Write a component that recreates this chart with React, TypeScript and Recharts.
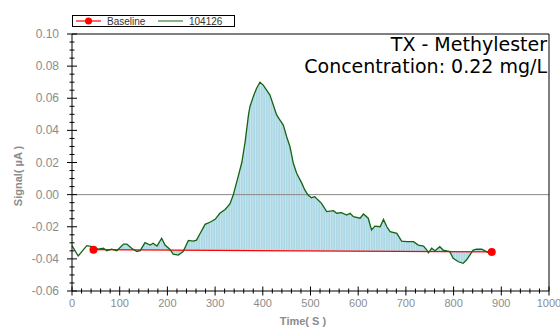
import React from "react";
import { ComposedChart, Area, Line, XAxis, YAxis, ReferenceLine } from "recharts";

// signal trace (time in s, signal in µA)
const timeS = [
  0, 13, 31, 41, 55, 66, 73, 83, 94, 108, 115, 125, 136, 143, 153, 164, 170, 178, 188, 195,
  205, 212, 223, 233, 244, 254, 261, 268, 279, 289, 300, 310, 321, 331, 338, 345, 356, 363, 370, 373,
  380, 387, 394, 401, 408, 415, 422, 429, 436, 443, 450, 457, 464, 471, 482, 488, 495, 502, 509, 516,
  523, 534, 548, 555, 565, 576, 583, 590, 604, 611, 621, 628, 635, 646, 653, 660, 667, 681, 691, 702,
  716, 726, 737, 744, 747, 754, 761, 771, 778, 786, 792, 799, 810, 820, 827, 834, 841, 848, 859, 869,
  876, 880,
];
const signal = [
  -0.0318, -0.0382, -0.0318, -0.0324, -0.0339, -0.0334, -0.0349, -0.0339, -0.0349, -0.0308,
  -0.0308, -0.0334, -0.0355, -0.0349, -0.0299, -0.0314, -0.0303, -0.032, -0.0272, -0.0314,
  -0.034, -0.037, -0.0376, -0.0355, -0.0285, -0.0289, -0.0283, -0.0245, -0.0185, -0.0172,
  -0.0154, -0.0116, -0.0092, -0.0058, -0.0002, 0.0075, 0.02, 0.033, 0.0496, 0.0547,
  0.061, 0.0662, 0.07, 0.0682, 0.0651, 0.062, 0.0558, 0.0496, 0.0464, 0.0433,
  0.036, 0.0298, 0.0195, 0.0133, 0.007, 0.0029, -0.0003, -0.0019, -0.0013, -0.0034,
  -0.0054, -0.0106, -0.01, -0.0116, -0.0112, -0.0127, -0.0116, -0.0137, -0.0147, -0.0121,
  -0.0147, -0.022, -0.0196, -0.02, -0.0154, -0.02, -0.0231, -0.0241, -0.0289, -0.0293,
  -0.0293, -0.0314, -0.032, -0.0345, -0.0362, -0.0334, -0.0349, -0.0324, -0.0345, -0.0351,
  -0.0355, -0.0397, -0.0418, -0.0428, -0.0407, -0.0376, -0.0345, -0.0339, -0.034, -0.0355,
  -0.0366, -0.0357,
];
const baselineTime = [45, 880];
const baselineSignal = [-0.0343, -0.0357];

const xMajorTicks = [0, 100, 200, 300, 400, 500, 600, 700, 800, 900, 1000];
const yMajorTicks = [-0.06, -0.04, -0.02, 0, 0.02, 0.04, 0.06, 0.08, 0.1];

const xTicks = Array.from({ length: 51 }, (_, i) => i * 20);
const yTicks = Array.from({ length: 33 }, (_, i) => Math.round((-0.06 + i * 0.005) * 1000) / 1000);

const curve = timeS.map((t, i) => ({ t, v: signal[i] }));
const baseRows = baselineTime.map((t, i) => ({ t, b: baselineSignal[i] }));
// straight baseline, evaluated under each trace point for the shaded band
const baseAt = (t: number) =>
  baselineSignal[0] +
  ((baselineSignal[1] - baselineSignal[0]) * (t - baselineTime[0])) / (baselineTime[1] - baselineTime[0]);
const band = curve
  .filter((d) => d.t >= baselineTime[0] && d.t <= baselineTime[1])
  .map((d) => ({ t: d.t, band: [baseAt(d.t), d.v] }));

const isMajor = (v: number, list: number[]) => list.some((m) => Math.abs(m - v) < 1e-6);
const TICK_FONT = "'Liberation Sans', Arial, sans-serif";
const GREY = "#8c8c8c";
const AXIS = { stroke: "#000", strokeWidth: 1 };

function XTick({ x, y, payload, labels }: any) {
  const major = isMajor(payload.value, xMajorTicks);
  const len = major ? 4.5 : 2.5;
  return (
    <g>
      <line x1={x} x2={x} y1={y - len} y2={y + len} stroke="#000" />
      {labels && major && (
        <text x={x} y={y + 16} textAnchor="middle" fontSize={11} fontFamily={TICK_FONT} fill={GREY}>
          {payload.value}
        </text>
      )}
    </g>
  );
}

function YTick({ x, y, payload, labels }: any) {
  const major = isMajor(payload.value, yMajorTicks);
  const len = major ? 5 : 2.5;
  return (
    <g>
      <line x1={x - len} x2={x + len} y1={y} y2={y} stroke="#000" />
      {labels && major && (
        <text x={x - 13} y={y + 4} textAnchor="end" fontSize={12} fontFamily={TICK_FONT} fill={GREY}>
          {payload.value.toFixed(2)}
        </text>
      )}
    </g>
  );
}

export default function App() {
  return (
    <div style={{ position: "absolute", left: 0, top: 0, width: 560, height: 332, background: "#fff" }}>
      <ComposedChart width={560} height={332} margin={{ top: 0, right: 0, bottom: 0, left: 0 }}>
        <defs>
          <pattern id="stripes" width={2.5} height={10} patternUnits="userSpaceOnUse">
            <rect width={2.5} height={10} fill="#acd8e6" />
            <rect width={0.7} height={10} fill="#cde8f1" />
          </pattern>
        </defs>
        <XAxis
          xAxisId="bottom"
          dataKey="t"
          type="number"
          domain={[0, 1000]}
          ticks={xTicks}
          interval={0}
          height={41}
          tickSize={0}
          tickMargin={0}
          tickLine={false}
          axisLine={AXIS}
          tick={(p: any) => <XTick {...p} labels />}
          label={{
            content: () => (
              <text x={303} y={325} textAnchor="middle" fontSize={11} fontWeight="bold" fontFamily={TICK_FONT} fill={GREY}>
                Time( S )
              </text>
            ),
          }}
        />
        <XAxis
          xAxisId="top"
          orientation="top"
          dataKey="t"
          type="number"
          domain={[0, 1000]}
          ticks={xTicks}
          interval={0}
          height={34}
          tickSize={0}
          tickMargin={0}
          tickLine={false}
          axisLine={AXIS}
          tick={(p: any) => <XTick {...p} />}
        />
        <YAxis
          yAxisId="left"
          type="number"
          domain={[-0.06, 0.1]}
          ticks={yTicks}
          interval={0}
          width={72}
          tickSize={0}
          tickMargin={0}
          tickLine={false}
          axisLine={AXIS}
          tick={(p: any) => <YTick {...p} labels />}
          label={{
            content: () => (
              <text
                x={0}
                y={0}
                transform="translate(22,176) rotate(-90)"
                textAnchor="middle"
                fontSize={11}
                fontWeight="bold"
                fontFamily={TICK_FONT}
                fill={GREY}
              >
                Signal( µA )
              </text>
            ),
          }}
        />
        <YAxis
          yAxisId="right"
          orientation="right"
          type="number"
          domain={[-0.06, 0.1]}
          ticks={yTicks}
          interval={0}
          width={11}
          tickSize={0}
          tickMargin={0}
          tickLine={false}
          axisLine={AXIS}
          tick={(p: any) => <YTick {...p} />}
        />
        <Area
          data={band}
          xAxisId="bottom"
          yAxisId="left"
          dataKey="band"
          type="linear"
          stroke="none"
          fill="url(#stripes)"
          fillOpacity={1}
          isAnimationActive={false}
        />
        <ReferenceLine xAxisId="bottom" yAxisId="left" y={0} stroke="#888" strokeWidth={1} />
        <Line
          data={baseRows}
          xAxisId="bottom"
          yAxisId="left"
          dataKey="b"
          type="linear"
          stroke="#ff0000"
          strokeWidth={1.3}
          dot={{ r: 4, fill: "#ff0000", stroke: "none" }}
          isAnimationActive={false}
        />
        <Line
          data={curve}
          xAxisId="bottom"
          yAxisId="left"
          dataKey="v"
          type="linear"
          stroke="#146414"
          strokeWidth={1.3}
          dot={false}
          isAnimationActive={false}
        />
      </ComposedChart>

      <div
        style={{
          position: "absolute",
          left: 72,
          top: 15,
          width: 163,
          height: 12,
          border: "1px solid #000",
          boxSizing: "border-box",
          background: "#fff",
        }}
      >
        <svg width={161} height={10} style={{ position: "absolute", left: 0, top: 0 }}>
          <line x1={3} x2={28} y1={5} y2={5} stroke="#ff0000" strokeWidth={1.2} />
          <circle cx={15.5} cy={5} r={3.5} fill="#ff0000" />
          <text x={34} y={8.5} fontSize={10} fontFamily={TICK_FONT} fill="#333">
            Baseline
          </text>
          <line x1={85} x2={110} y1={5} y2={5} stroke="#146414" strokeWidth={1} />
          <text x={116} y={8.5} fontSize={10} fontFamily={TICK_FONT} fill="#333">
            104126
          </text>
        </svg>
      </div>

      <div
        style={{
          position: "absolute",
          right: 13,
          top: 33,
          textAlign: "right",
          fontFamily: "'DejaVu Sans', sans-serif",
          fontSize: 19,
          lineHeight: "22px",
          color: "#000",
          whiteSpace: "nowrap",
        }}
      >
        <div>TX - Methylester</div>
        <div>Concentration: 0.22 mg/L</div>
      </div>
    </div>
  );
}
